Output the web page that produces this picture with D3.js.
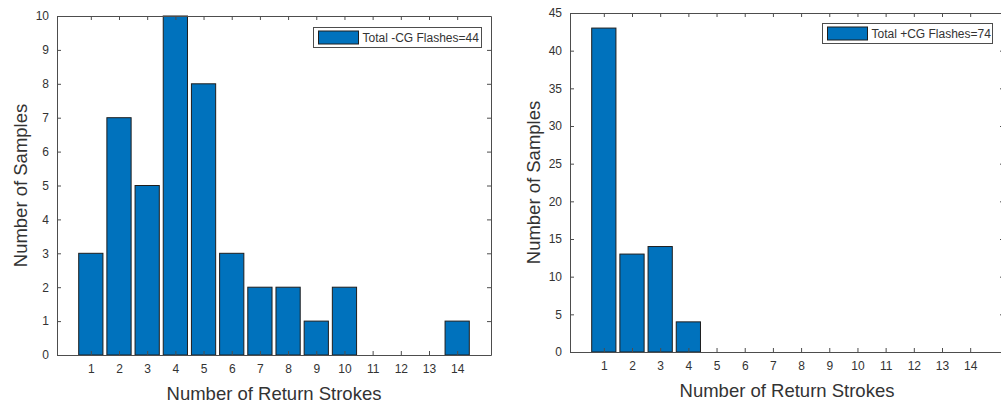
<!DOCTYPE html>
<html>
<head>
<meta charset="utf-8">
<script src="https://cdn.jsdelivr.net/npm/d3@7"></script>
<style>
  html, body { margin: 0; padding: 0; background: #fff; }
  svg { display: block; }
  text { font-family: "Liberation Sans", Arial, sans-serif; fill: #333; }
</style>
</head>
<body>
<svg id="chart" width="1001" height="408"></svg>
<script>
// Return-stroke counts per flash category
const strokes = [1, 2, 3, 4, 5, 6, 7, 8, 9, 10, 11, 12, 13, 14];
const negativeCounts = [3, 7, 5, 10, 8, 3, 2, 2, 1, 2, 0, 0, 0, 1];
const positiveCounts = [43, 13, 14, 4, 0, 0, 0, 0, 0, 0, 0, 0, 0, 0];
const negativeYTicks = [0, 1, 2, 3, 4, 5, 6, 7, 8, 9, 10];
const positiveYTicks = [0, 5, 10, 15, 20, 25, 30, 35, 40, 45];
const negativeLegend = "Total -CG Flashes=44";
const positiveLegend = "Total +CG Flashes=74";
const xTitle = "Number of Return Strokes";
const yTitle = "Number of Samples";

const svg = d3.select("#chart");
const barFill = "#0072BD";
const axisColor = "#4d4d4d";

function panel(opts) {
  const { left, top, width, height, values, yMax, yTicks, legendText, legend } = opts;
  const g = svg.append("g");

  const x = d3.scaleLinear().domain([-0.2, 15.2]).range([left, left + width]);
  const y = d3.scaleLinear().domain([0, yMax]).range([top + height, top]);
  const barW = (x(1) - x(0)) * 0.86;

  // bars
  g.append("g").selectAll("rect")
    .data(strokes.map((s, i) => ({ s, v: values[i] })).filter(d => d.v > 0))
    .join("rect")
    .attr("x", d => x(d.s) - barW / 2)
    .attr("y", d => y(d.v))
    .attr("width", barW)
    .attr("height", d => y(0) - y(d.v))
    .attr("fill", barFill)
    .attr("stroke", "#1e1e1e")
    .attr("stroke-width", 1);

  // axes with inward ticks, mirrored on top and right
  const tickLen = 4;
  const bottom = d3.axisBottom(x).tickValues(strokes).tickSizeInner(-tickLen).tickSizeOuter(0).tickPadding(9);
  const topAx = d3.axisTop(x).tickValues(strokes).tickSizeInner(-tickLen).tickSizeOuter(0).tickFormat("");
  const leftAx = d3.axisLeft(y).tickValues(yTicks).tickSizeInner(-tickLen).tickSizeOuter(0).tickPadding(8);
  const rightAx = d3.axisRight(y).tickValues(yTicks).tickSizeInner(-tickLen).tickSizeOuter(0).tickFormat("");

  const styleAxis = sel => {
    sel.selectAll("path").attr("stroke", axisColor);
    sel.selectAll("line").attr("stroke", axisColor);
    sel.selectAll("text").attr("fill", "#333").style("font-size", "12px")
      .style("font-family", "'Liberation Sans', Arial, sans-serif");
  };

  g.append("g").attr("transform", `translate(0,${y(0)})`).call(bottom).call(styleAxis);
  g.append("g").attr("transform", `translate(0,${top})`).call(topAx).call(styleAxis);
  g.append("g").attr("transform", `translate(${left},0)`).call(leftAx).call(styleAxis);
  g.append("g").attr("transform", `translate(${left + width},0)`).call(rightAx).call(styleAxis);

  // axis titles
  g.append("text")
    .attr("x", left + width / 2)
    .attr("y", top + height + 45)
    .attr("text-anchor", "middle")
    .style("font-size", "18.5px")
    .text(xTitle);
  g.append("text")
    .attr("transform", `translate(${left - 30},${top + height / 2}) rotate(-90)`)
    .attr("text-anchor", "middle")
    .style("font-size", "18.5px")
    .text(yTitle);

  // legend
  const lg = g.append("g");
  lg.append("rect")
    .attr("x", legend.x).attr("y", legend.y)
    .attr("width", legend.w).attr("height", 20)
    .attr("fill", "#fff").attr("stroke", axisColor).attr("stroke-width", 1);
  lg.append("rect")
    .attr("x", legend.x + 5).attr("y", legend.y + 3.5)
    .attr("width", 40).attr("height", 13)
    .attr("fill", barFill).attr("stroke", "#1e1e1e");
  lg.append("text")
    .attr("x", legend.x + 49).attr("y", legend.y + 14.5)
    .style("font-size", "12px")
    .text(legendText);
}

panel({
  left: 57, top: 16, width: 434, height: 339,
  values: negativeCounts, yMax: 10, yTicks: negativeYTicks,
  legendText: negativeLegend, legend: { x: 313.5, y: 27.5, w: 168 }
});

panel({
  left: 570, top: 13, width: 434, height: 339,
  values: positiveCounts, yMax: 45, yTicks: positiveYTicks,
  legendText: positiveLegend, legend: { x: 822.5, y: 23.5, w: 170 }
});
</script>
</body>
</html>
